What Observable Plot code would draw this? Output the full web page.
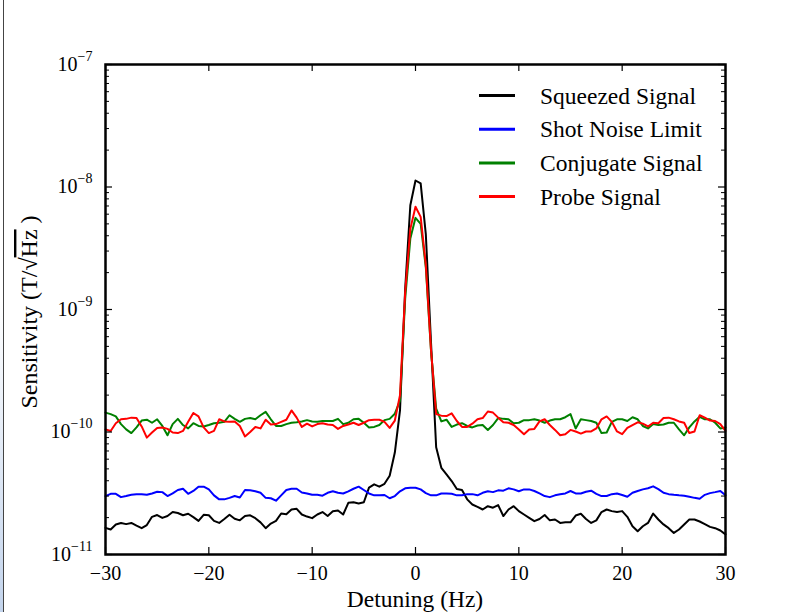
<!DOCTYPE html>
<html>
<head>
<meta charset="utf-8">
<script src="https://cdn.jsdelivr.net/npm/d3@7"></script>
<script src="https://cdn.jsdelivr.net/npm/@observablehq/plot@0.6"></script>
<style>
  html, body { margin: 0; padding: 0; background: #fff; }
  #wrap { position: relative; width: 792px; height: 612px; overflow: hidden; background: #fff; }
  #edge { position: absolute; left: 3px; top: 0; width: 1px; height: 612px; background: #444; }
  #edgefill { position: absolute; left: 0; top: 300px; width: 3px; height: 312px; background: linear-gradient(to bottom, #ffffff, #c3d4ec); }
  #chart { position: absolute; left: 0; top: 0; }
</style>
</head>
<body>
<div id="wrap"><div id="edgefill"></div><div id="edge"></div><div id="chart"></div></div>
<script>
// Detuning grid (Hz), sampled every 0.5 Hz from -30 to 30
const detuning = d3.range(-60, 61).map(i => i / 2);

// Sensitivity values (T/sqrt(Hz))
const squeezedSignal = [
  1.65e-11,1.60e-11,1.76e-11,1.81e-11,1.77e-11,1.81e-11,1.72e-11,1.64e-11,1.74e-11,2.03e-11,
  2.10e-11,1.99e-11,2.06e-11,2.22e-11,2.18e-11,2.09e-11,2.15e-11,2.02e-11,1.88e-11,2.11e-11,
  2.09e-11,1.88e-11,1.81e-11,1.95e-11,2.11e-11,1.96e-11,1.90e-11,2.06e-11,2.09e-11,1.98e-11,
  1.83e-11,1.64e-11,1.79e-11,1.88e-11,2.16e-11,2.13e-11,2.33e-11,2.36e-11,2.12e-11,2.04e-11,
  1.98e-11,2.12e-11,2.22e-11,2.06e-11,2.25e-11,2.29e-11,2.12e-11,2.64e-11,2.67e-11,2.61e-11,
  2.67e-11,3.51e-11,3.74e-11,3.58e-11,3.78e-11,4.40e-11,6.80e-11,1.50e-10,1.47e-9,7.10e-9,
  1.13e-8,1.07e-8,4.10e-9,5.40e-10,7.50e-11,5.10e-11,4.51e-11,3.98e-11,3.42e-11,3.36e-11,
  2.82e-11,2.56e-11,2.45e-11,2.33e-11,2.48e-11,2.41e-11,2.53e-11,2.06e-11,2.33e-11,2.48e-11,
  2.26e-11,2.12e-11,1.99e-11,1.87e-11,1.95e-11,2.10e-11,1.90e-11,1.93e-11,1.81e-11,1.83e-11,
  1.83e-11,2.08e-11,2.15e-11,1.95e-11,1.81e-11,1.90e-11,2.22e-11,2.33e-11,2.26e-11,2.22e-11,
  2.26e-11,2.03e-11,1.70e-11,1.55e-11,1.70e-11,1.81e-11,2.16e-11,1.93e-11,1.76e-11,1.64e-11,
  1.50e-11,1.60e-11,1.76e-11,1.93e-11,1.93e-11,1.86e-11,1.77e-11,1.68e-11,1.64e-11,1.57e-11,
  1.46e-11
];
const shotNoiseLimit = [
  3.00e-11,3.13e-11,3.13e-11,2.94e-11,3.00e-11,3.07e-11,3.10e-11,3.11e-11,3.07e-11,3.15e-11,
  3.25e-11,3.23e-11,3.00e-11,3.15e-11,3.36e-11,3.44e-11,3.13e-11,3.30e-11,3.58e-11,3.58e-11,
  3.40e-11,3.04e-11,2.82e-11,2.82e-11,2.90e-11,3.00e-11,2.92e-11,3.36e-11,3.34e-11,3.28e-11,
  3.19e-11,2.90e-11,2.88e-11,2.75e-11,3.04e-11,3.36e-11,3.44e-11,3.44e-11,3.21e-11,3.15e-11,
  3.07e-11,3.07e-11,3.02e-11,3.19e-11,3.28e-11,3.19e-11,3.15e-11,3.28e-11,3.44e-11,3.58e-11,
  3.36e-11,3.15e-11,3.04e-11,3.04e-11,3.06e-11,2.88e-11,3.00e-11,3.28e-11,3.47e-11,3.51e-11,
  3.51e-11,3.40e-11,3.17e-11,3.04e-11,3.04e-11,3.15e-11,3.15e-11,3.13e-11,3.04e-11,3.04e-11,
  3.11e-11,3.11e-11,3.04e-11,3.19e-11,3.28e-11,3.23e-11,3.34e-11,3.32e-11,3.47e-11,3.40e-11,
  3.28e-11,3.40e-11,3.40e-11,3.30e-11,3.15e-11,3.00e-11,2.94e-11,3.04e-11,3.10e-11,3.15e-11,
  3.30e-11,3.15e-11,3.15e-11,3.25e-11,3.32e-11,3.13e-11,3.00e-11,3.00e-11,3.11e-11,3.15e-11,
  3.06e-11,2.96e-11,3.19e-11,3.30e-11,3.40e-11,3.47e-11,3.60e-11,3.42e-11,3.19e-11,3.11e-11,
  3.07e-11,3.04e-11,3.02e-11,2.96e-11,2.90e-11,2.85e-11,3.07e-11,3.17e-11,3.23e-11,3.30e-11,
  3.04e-11
];
const conjugateSignal = [
  1.44e-10,1.40e-10,1.34e-10,1.16e-10,1.05e-10,0.98e-10,1.09e-10,1.24e-10,1.26e-10,1.19e-10,
  1.27e-10,1.12e-10,0.94e-10,1.16e-10,1.28e-10,1.14e-10,1.07e-10,1.18e-10,1.12e-10,1.11e-10,
  1.14e-10,1.18e-10,1.19e-10,1.21e-10,1.37e-10,1.28e-10,1.21e-10,1.28e-10,1.30e-10,1.27e-10,
  1.37e-10,1.46e-10,1.27e-10,1.12e-10,1.12e-10,1.16e-10,1.19e-10,1.20e-10,1.22e-10,1.25e-10,
  1.22e-10,1.21e-10,1.23e-10,1.23e-10,1.23e-10,1.28e-10,1.16e-10,1.19e-10,1.27e-10,1.28e-10,
  1.19e-10,1.09e-10,1.10e-10,1.14e-10,1.25e-10,1.28e-10,1.41e-10,1.80e-10,1.22e-9,3.80e-9,
  5.60e-9,5.00e-9,2.20e-9,4.60e-10,1.55e-10,1.22e-10,1.26e-10,1.10e-10,1.15e-10,1.18e-10,
  1.12e-10,1.09e-10,1.13e-10,1.14e-10,1.04e-10,1.14e-10,1.30e-10,1.28e-10,1.27e-10,1.18e-10,
  1.19e-10,1.25e-10,1.25e-10,1.27e-10,1.24e-10,1.19e-10,1.24e-10,1.27e-10,1.27e-10,1.32e-10,
  1.40e-10,1.07e-10,1.27e-10,1.25e-10,1.23e-10,1.19e-10,0.98e-10,0.99e-10,1.21e-10,1.27e-10,
  1.27e-10,1.23e-10,1.32e-10,1.27e-10,1.12e-10,1.07e-10,1.16e-10,1.14e-10,1.15e-10,1.19e-10,
  1.19e-10,1.05e-10,0.94e-10,1.09e-10,1.22e-10,1.33e-10,1.27e-10,1.27e-10,1.19e-10,1.07e-10,
  1.09e-10
];
const probeSignal = [
  1.05e-10,1.02e-10,1.18e-10,1.27e-10,1.28e-10,1.31e-10,1.30e-10,1.11e-10,0.90e-10,0.99e-10,
  1.08e-10,1.09e-10,1.06e-10,0.99e-10,0.98e-10,1.02e-10,1.21e-10,1.43e-10,1.34e-10,1.09e-10,
  0.98e-10,1.02e-10,1.27e-10,1.22e-10,1.21e-10,1.22e-10,1.12e-10,0.92e-10,1.00e-10,1.10e-10,
  1.07e-10,1.26e-10,1.15e-10,1.16e-10,1.21e-10,1.26e-10,1.50e-10,1.31e-10,1.10e-10,1.17e-10,
  1.11e-10,1.16e-10,1.18e-10,1.15e-10,1.14e-10,1.06e-10,1.12e-10,1.15e-10,1.19e-10,1.14e-10,
  1.19e-10,1.25e-10,1.26e-10,1.26e-10,1.21e-10,1.08e-10,1.24e-10,2.00e-10,1.38e-9,4.55e-9,
  6.90e-9,5.70e-9,2.30e-9,4.70e-10,1.40e-10,1.36e-10,1.35e-10,1.42e-10,1.23e-10,1.10e-10,
  1.10e-10,1.17e-10,1.27e-10,1.30e-10,1.47e-10,1.44e-10,1.31e-10,1.20e-10,1.19e-10,1.14e-10,
  1.05e-10,0.96e-10,1.05e-10,1.06e-10,1.22e-10,1.27e-10,1.14e-10,1.04e-10,0.94e-10,0.96e-10,
  1.04e-10,1.01e-10,0.97e-10,1.01e-10,1.01e-10,1.07e-10,1.27e-10,1.34e-10,1.21e-10,1.01e-10,
  0.96e-10,1.08e-10,1.14e-10,1.20e-10,1.17e-10,1.11e-10,1.19e-10,1.18e-10,1.30e-10,1.31e-10,
  1.27e-10,1.22e-10,1.19e-10,0.98e-10,1.01e-10,1.37e-10,1.31e-10,1.24e-10,1.23e-10,1.16e-10,
  1.02e-10
];

const seriesNames = ["Squeezed Signal", "Shot Noise Limit", "Conjugate Signal", "Probe Signal"];
const seriesColors = ["#000000", "#0000ff", "#008000", "#ff0000"];
const seriesValues = [squeezedSignal, shotNoiseLimit, conjugateSignal, probeSignal];

const xTicks = [-30, -20, -10, 0, 10, 20, 30];
const yTicks = [1e-11, 1e-10, 1e-9, 1e-8, 1e-7];
const yMinorTicks = d3.scaleLog().domain([1e-11, 1e-7]).ticks().filter(v => !yTicks.some(t => Math.abs(t - v) / t < 1e-6));

const W = 792, H = 612, mL = 105, mR = 67, mT = 64, mB = 58;
const pw = W - mL - mR, ph = H - mT - mB;

const rows = seriesValues.map(vals => detuning.map((t, i) => ({t, v: vals[i]})));

const fmtX = d => d < 0 ? "\u2212" + Math.abs(d) : String(d);

const plot = Plot.plot({
  width: W, height: H,
  marginLeft: mL, marginRight: mR, marginTop: mT, marginBottom: mB,
  style: {fontFamily: "'Liberation Serif', 'Times New Roman', serif", fontSize: "20px", color: "#000", background: "transparent", overflow: "visible"},
  x: {domain: [-30, 30]},
  y: {type: "log", domain: [1e-11, 1e-7]},
  marks: [
    ...rows.map((r, k) => Plot.line(r, {x: "t", y: "v", stroke: seriesColors[k], strokeWidth: 2, strokeLinejoin: "round"})),
    Plot.tickY(yTicks, {y: d => d, insetRight: pw - 7, stroke: "#000", strokeWidth: 1.2}),
    Plot.tickY(yTicks, {y: d => d, insetLeft: pw - 7, stroke: "#000", strokeWidth: 1.2}),
    Plot.tickY(yMinorTicks, {y: d => d, insetRight: pw - 4, stroke: "#000", strokeWidth: 1}),
    Plot.tickY(yMinorTicks, {y: d => d, insetLeft: pw - 4, stroke: "#000", strokeWidth: 1}),
    Plot.tickX(xTicks, {x: d => d, insetTop: ph - 7, stroke: "#000", strokeWidth: 1.2}),
    Plot.tickX(xTicks, {x: d => d, insetBottom: ph - 7, stroke: "#000", strokeWidth: 1.2}),
    Plot.axisX({ticks: xTicks, tickSize: 0, tickPadding: 11, tickFormat: fmtX, label: null}),
    Plot.axisY({ticks: yTicks, tickSize: 0, tickPadding: 13, tickFormat: d => String(Math.round(Math.log10(d))), label: null}),
    Plot.frame({stroke: "#000", strokeWidth: 2.5})
  ]
});

document.getElementById("chart").appendChild(plot);

const svg = d3.select(plot);
// superscript exponents on y tick labels
svg.selectAll('g[aria-label="y-axis tick label"] text').each(function() {
  const t = d3.select(this);
  const e = t.text().replace("-", "\u2212");
  t.text("");
  t.append("tspan").text("10");
  t.append("tspan").attr("dy", "-10").attr("font-size", "14px").text(e);
});

const font = "'Liberation Serif', 'Times New Roman', serif";
// axis titles
svg.append("text")
  .attr("x", mL + pw / 2).attr("y", 607)
  .attr("text-anchor", "middle").attr("font-family", font).attr("font-size", 23.5).attr("fill", "#000")
  .text("Detuning (Hz)");
const yl = svg.append("text")
  .attr("transform", `translate(37,${mT + ph / 2 + 3}) rotate(-90)`)
  .attr("text-anchor", "middle").attr("font-family", font).attr("font-size", 24).attr("fill", "#000");
yl.append("tspan").text("Sensitivity (T/\u221A");
yl.append("tspan").attr("text-decoration", "overline").style("text-decoration", "overline").text("Hz");
yl.append("tspan").text(" )");

// legend
const lg = svg.append("g").attr("text-anchor", "start");
seriesNames.forEach((name, i) => {
  const y = 95.5 + i * 33.7;
  lg.append("line").attr("x1", 479).attr("x2", 515).attr("y1", y).attr("y2", y)
    .attr("stroke", seriesColors[i]).attr("stroke-width", 3);
  lg.append("text").attr("x", 540).attr("y", y).attr("dy", "0.35em").attr("text-anchor", "start")
    .attr("font-family", font).attr("font-size", 23.5).attr("fill", "#000").text(name);
});
</script>
</body>
</html>
